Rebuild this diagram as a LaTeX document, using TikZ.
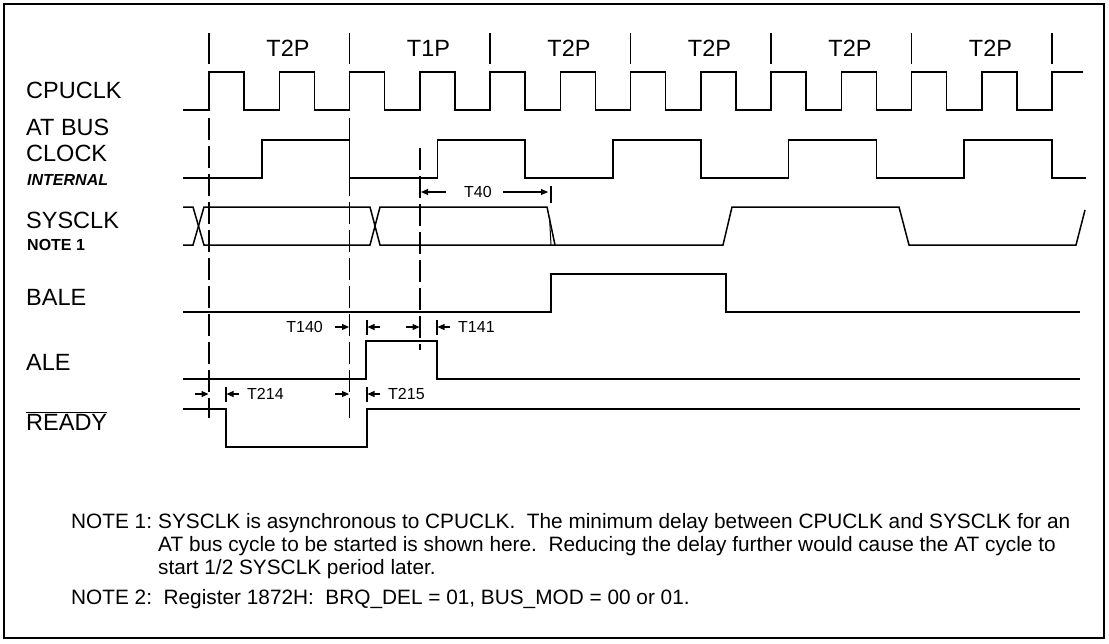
\documentclass[tikz,border=0pt]{standalone}
\usepackage{fontspec}
\setmainfont{Liberation Sans}
\usetikzlibrary{arrows.meta}
\begin{document}
\begin{tikzpicture}[x=1pt,y=-1pt,
  sig/.style={line width=1.5pt, line join=miter, line cap=butt},
  guide/.style={line width=1.1pt, dash pattern=on 22pt off 6pt},
  tickmark/.style={line width=1.3pt},
  lab/.style={anchor=base west, inner sep=0pt, font=\fontsize{23.5}{23.5}\selectfont},
  sublab/.style={anchor=base west, inner sep=0pt, font=\fontsize{16}{16}\selectfont\bfseries},
  phase/.style={anchor=base, inner sep=0pt, font=\fontsize{23.5}{23.5}\selectfont},
  tlab/.style={inner sep=0pt, font=\fontsize{16}{16}\selectfont},
  note/.style={anchor=base west, inner sep=0pt, font=\fontsize{20.8}{23}\selectfont},
  arr/.style={line width=1.1pt, -{Triangle[length=7pt,width=6pt]}},
  bar/.style={line width=1.1pt}
]
\useasboundingbox (0,0) rectangle (1109,643);
\draw[line width=2pt] (3.5,4) rectangle (1104,637.5);

% phase markers and labels
\foreach \k in {0,...,6} {\draw[tickmark] ({209+140.5*\k},33) -- ({209+140.5*\k},64);}
\foreach \k/\t/\n in {0/T2P/pa,1/T1P/pb,2/T2P/pc,3/T2P/pd,4/T2P/pe,5/T2P/pf}
  {\node[phase] (\n) at ({288+140.5*\k},56) {\t};}

% signal labels
\node[lab] (lcpu) at (26,98.4) {CPUCLK};
\node[lab] (lat1) at (26,135.4) {AT BUS};
\node[lab] (lat2) at (26,161.4) {CLOCK};
\node[sublab, font=\fontsize{16}{16}\selectfont\bfseries\itshape] (lat3) at (27,185) {INTERNAL};
\node[lab] (lsys) at (26,228.4) {SYSCLK};
\node[sublab] (lsys2) at (27,250) {NOTE 1};
\node[lab] (lbale) at (26,305.4) {BALE};
\node[lab] (lale) at (26,370.4) {ALE};
\node[lab] (lrdy) at (26,430) {$\overline{\hbox{READY}}$};

% guide lines
\draw[guide] (209,118) -- (209,418);
\draw[guide] (349.5,118) -- (349.5,418);
\draw[guide] (420,148) -- (420,350);

% CPUCLK
\draw[sig] (183,110) \foreach \k in {0,...,11} { -- ({209+70.25*\k},110) -- ({209+70.25*\k},72) -- ({244+70.25*\k},72) -- ({244+70.25*\k},110) } -- (1052,110) -- (1052,72) -- (1083,72);

% AT BUS CLOCK
\draw[sig] (183,178) -- (262,178) -- (262,140) -- (349.5,140) -- (349.5,178) -- (437.3,178) -- (437.3,140) -- (525,140) -- (525,178) -- (613,178) -- (613,140) -- (700.75,140) -- (700.75,178) -- (788.6,178) -- (788.6,140) -- (876.4,140) -- (876.4,178) -- (964.2,178) -- (964.2,140) -- (1052,140) -- (1052,178) -- (1086,178);

% SYSCLK
\draw[sig] (183,207) -- (193,207) -- (204,245) -- (370,245) -- (380,207) -- (547,207) -- (555,245) -- (723,245) -- (732,207) -- (899,207) -- (909,245) -- (1076,245) -- (1085,210);
\draw[sig] (183,245) -- (193,245) -- (204,207) -- (370,207) -- (380,245) -- (555,245);
\draw[line width=1pt] (549.5,217) -- (551,245);

% BALE
\draw[sig] (183,312) -- (551,312) -- (551,274) -- (726,274) -- (726,312) -- (1080,312);
% ALE
\draw[sig] (183,379) -- (366,379) -- (366,341) -- (437,341) -- (437,379) -- (1080,379);
% READY
\draw[sig] (183,409) -- (226,409) -- (226,447) -- (367,447) -- (367,409) -- (1080,409);

% T40
\node[tlab] (t40) at (478,192) {T40};
\draw[arr] (446,192) -- (421,192);
\draw[arr] (503,192) -- (548,192);
\draw[bar] (551,186) -- (551,203);

% T140 / T141
\node[tlab, anchor=east] (t140) at (323,327) {T140};
\draw[arr] (335,327) -- (349,327);
\draw[bar] (367,320) -- (367,335);
\draw[arr] (380,327) -- (367.5,327);
\draw[arr] (406,327) -- (419.5,327);
\draw[bar] (437,320) -- (437,335);
\draw[arr] (450,327) -- (437.5,327);
\node[tlab, anchor=west] (t141) at (458,327) {T141};

% T214 / T215
\draw[arr] (195,394) -- (208.5,394);
\draw[bar] (226,387) -- (226,402);
\draw[arr] (239,394) -- (226.5,394);
\node[tlab, anchor=west] (t214) at (247,394) {T214};
\draw[arr] (335,394) -- (349,394);
\draw[bar] (367,387) -- (367,402);
\draw[arr] (380,394) -- (367.5,394);
\node[tlab, anchor=west] (t215) at (388,394) {T215};

% notes
\node[note] (n1) at (71,528) {NOTE 1:};
\node[note] (n1a) at (158,528) {SYSCLK is asynchronous to CPUCLK.\ \ The minimum delay between CPUCLK and SYSCLK for an};
\node[note] (n1b) at (158,551) {AT bus cycle to be started is shown here.\ \ Reducing the delay further would cause the AT cycle to};
\node[note] (n1c) at (158,574) {start 1/2 SYSCLK period later.};
\node[note] (n2) at (71,604) {NOTE 2:\ \ Register 1872H:\ \ BRQ\_DEL = 01, BUS\_MOD = 00 or 01.};
\end{tikzpicture}
\end{document}
